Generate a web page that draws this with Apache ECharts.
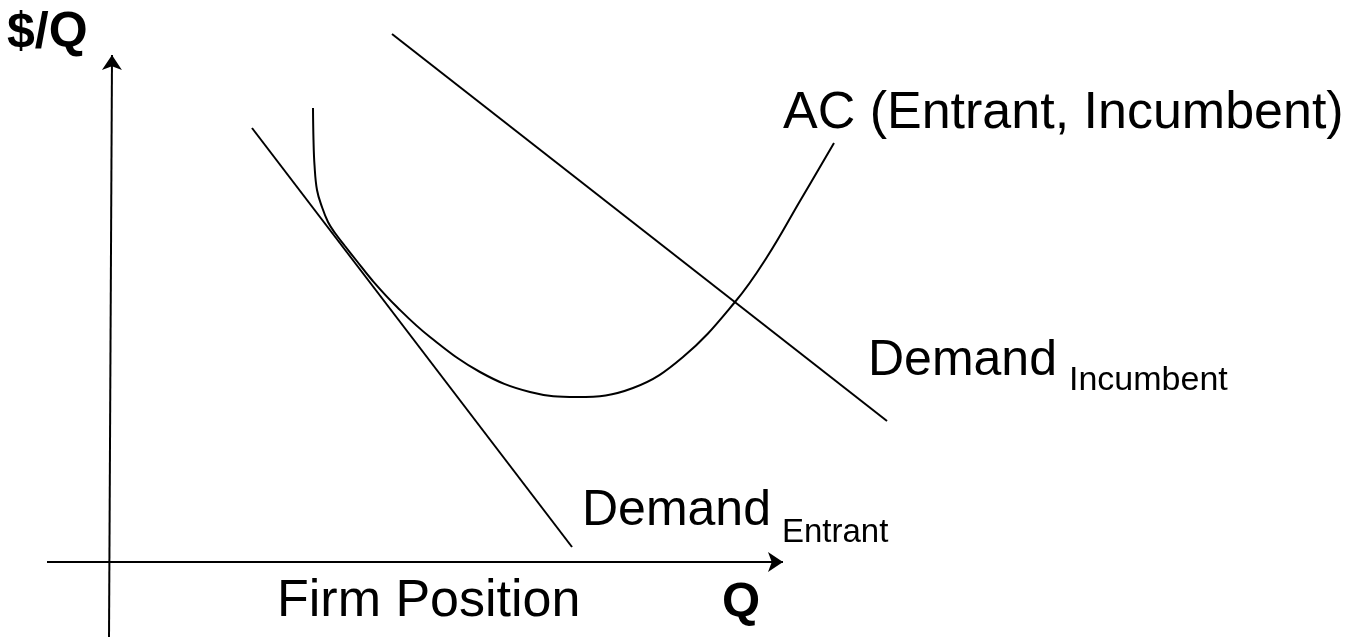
<!DOCTYPE html>
<html>
<head>
<meta charset="utf-8">
<title>Firm Position</title>
<script src="https://cdn.jsdelivr.net/npm/echarts@6/dist/echarts.min.js"></script>
<style>
    html, body { margin: 0; padding: 0; background: #fff; }
    #main { width: 1358px; height: 637px; }
</style>
</head>
<body>
<div id="main"></div>
<script>
    // 数据：原点在两轴交点，x 向右，y 向上（单位约等于像素）
    var entrantDemand = [[142, 434], [462, 15]];
    var incumbentDemand = [[282, 528], [777, 141]];
    var acCurve = [
        [203, 454], [203.5, 422], [204.5, 397], [207, 372], [212, 355],
        [218, 340], [225, 329], [235, 316], [246, 302], [262, 282],
        [287, 255], [320, 225], [370, 190], [420, 170], [467, 165],
        [523, 174], [573, 205], [625, 260], [657, 305], [690, 361],
        [724, 419]
    ];
    // 两条坐标轴（带箭头）的起止
    var qAxis = [[-63, 0], [673, 0]];
    var priceAxis = [[-1, -75], [2, 507]];

    var myChart = echarts.init(document.getElementById('main'));

    var font = 'Liberation Sans, Arial, sans-serif';
    var lineStyle = {color: '#000', width: 2};

    function label(text, left, top, size, bold) {
        return {
            type: 'text',
            left: left,
            top: top,
            style: {
                text: text,
                fill: '#000',
                font: (bold ? 'bold ' : '') + size + 'px ' + font
            }
        };
    }

    function hiddenAxis(min, max) {
        return {
            type: 'value',
            min: min,
            max: max,
            axisLine: {show: false},
            axisTick: {show: false},
            axisLabel: {show: false},
            splitLine: {show: false}
        };
    }

    option = {
        backgroundColor: '#fff',
        animation: false,
        grid: {left: 0, top: 0, width: 1358, height: 637},
        xAxis: hiddenAxis(-110, 1248),
        yAxis: hiddenAxis(-75, 562),
        series: [
            {
                name: 'Demand Entrant',
                type: 'line',
                data: entrantDemand,
                symbol: 'none',
                lineStyle: lineStyle,
                // 坐标轴用 markLine 画，末端是箭头
                markLine: {
                    silent: true,
                    symbol: ['none', 'arrow'],
                    symbolSize: 15,
                    label: {show: false},
                    emphasis: {disabled: true},
                    lineStyle: {color: '#000', width: 2, type: 'solid'},
                    data: [
                        [{coord: qAxis[0]}, {coord: qAxis[1]}],
                        [{coord: priceAxis[0]}, {coord: priceAxis[1]}]
                    ]
                }
            },
            {
                name: 'Demand Incumbent',
                type: 'line',
                data: incumbentDemand,
                symbol: 'none',
                lineStyle: lineStyle
            },
            {
                name: 'AC',
                type: 'line',
                data: acCurve,
                smooth: 0.4,
                symbol: 'none',
                lineStyle: lineStyle
            }
        ],
        graphic: [
            label('$/Q', 7, 8, 50, true),
            label('Q', 722, 578, 49, true),
            label('Firm Position', 277, 576, 52, false),
            label('AC (Entrant, Incumbent)', 783, 88, 52, false),
            label('Demand', 868, 336, 50, false),
            label('Incumbent', 1069, 364, 34, false),
            label('Demand', 582, 486, 50, false),
            label('Entrant', 782, 516, 33, false)
        ]
    };

    myChart.setOption(option);
</script>
</body>
</html>
